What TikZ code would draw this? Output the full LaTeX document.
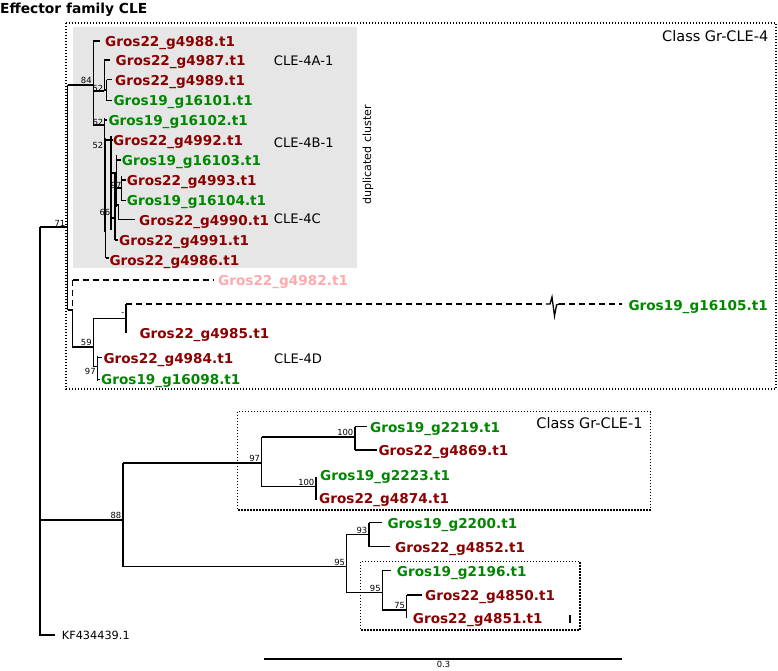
\documentclass[tikz,border=0pt]{standalone}
\usepackage{fontspec}
\setmainfont{DejaVu Sans}
\definecolor{gred}{RGB}{139,0,0}
\definecolor{ggreen}{RGB}{0,135,0}
\definecolor{gpink}{RGB}{255,170,170}
\definecolor{gbox}{RGB}{230,230,230}
\begin{document}
\begin{tikzpicture}[x=1pt,y=-1pt,
  br/.style={line width=1.3pt},
  leaf/.style={inner sep=0pt, anchor=base west, font=\bfseries\fontsize{13.6}{16}\selectfont},
  lr/.style={leaf, text=gred},
  lg/.style={leaf, text=ggreen},
  lp/.style={leaf, text=gpink},
  bs/.style={inner sep=0pt, anchor=south east, font=\fontsize{8.4}{10}\selectfont},
  cle/.style={inner sep=0pt, anchor=base west, font=\fontsize{13.1}{15}\selectfont},
  cls/.style={inner sep=0pt, anchor=base east, font=\fontsize{14.5}{17}\selectfont},
  dotbox/.style={line width=1.2pt, dash pattern=on 1.2pt off 1.8pt},
  dashln/.style={line width=1.3pt, dash pattern=on 6pt off 4pt}]
\useasboundingbox (0,0) rectangle (778,670);

% boxes
\fill[gbox] (72.7,27) rectangle (357,268.3);
\draw[dotbox] (66,23) rectangle (776,389);
\draw[dotbox] (237.7,411.7) rectangle (650.7,510);
\draw[dotbox] (360.7,561.7) rectangle (580,630);

% title and class labels
\node[inner sep=0pt, anchor=base west, font=\bfseries\fontsize{13.8}{16}\selectfont] (title) at (0,13) {Effector family CLE};
\node[cls] (c4) at (768.5,41.3) {Class Gr-CLE-4};
\node[cls] (c1) at (642.7,428.6) {Class Gr-CLE-1};
\node[inner sep=0pt, rotate=90, font=\fontsize{11.1}{13}\selectfont] (dup) at (368,155) {duplicated cluster};

% leaves
\node[lr] (l4988) at (105,46) {Gros22\_g4988.t1};
\node[lr] (l4987) at (115.5,65.5) {Gros22\_g4987.t1};
\node[lr] (l4989) at (115,85) {Gros22\_g4989.t1};
\node[lg] (l16101) at (113.3,105.5) {Gros19\_g16101.t1};
\node[lg] (l16102) at (108.3,125.5) {Gros19\_g16102.t1};
\node[lr] (l4992) at (113,145.5) {Gros22\_g4992.t1};
\node[lg] (l16103) at (121.7,165.5) {Gros19\_g16103.t1};
\node[lr] (l4993) at (126.7,185.5) {Gros22\_g4993.t1};
\node[lg] (l16104) at (126.7,205.5) {Gros19\_g16104.t1};
\node[lr] (l4990) at (139,225) {Gros22\_g4990.t1};
\node[lr] (l4991) at (119,245.5) {Gros22\_g4991.t1};
\node[lr] (l4986) at (109.3,265.5) {Gros22\_g4986.t1};
\node[lp] (l4982) at (218,285.5) {Gros22\_g4982.t1};
\node[lg] (l16105) at (628.3,310) {Gros19\_g16105.t1};
\node[lr] (l4985) at (139.3,338) {Gros22\_g4985.t1};
\node[lr] (l4984) at (103.3,363) {Gros22\_g4984.t1};
\node[lg] (l16098) at (101,384.5) {Gros19\_g16098.t1};
\node[lg] (l2219) at (370,432) {Gros19\_g2219.t1};
\node[lr] (l4869) at (378.3,455.3) {Gros22\_g4869.t1};
\node[lg] (l2223) at (320,480.3) {Gros19\_g2223.t1};
\node[lr] (l4874) at (319,503.3) {Gros22\_g4874.t1};
\node[lg] (l2200) at (387.3,528) {Gros19\_g2200.t1};
\node[lr] (l4852) at (395,552) {Gros22\_g4852.t1};
\node[lg] (l2196) at (396.7,576) {Gros19\_g2196.t1};
\node[lr] (l4850) at (425,600.3) {Gros22\_g4850.t1};
\node[lr] (l4851) at (412.7,623.6) {Gros22\_g4851.t1};
\node[inner sep=0pt, anchor=base west, font=\fontsize{11.3}{13}\selectfont] (kf) at (61.7,639.2) {KF434439.1};

% CLE labels
\node[cle] (a41) at (273.7,65.3) {CLE-4A-1};
\node[cle] (b41) at (273.7,147.5) {CLE-4B-1};
\node[cle] (c4c) at (273.7,223.8) {CLE-4C};
\node[cle] (d4d) at (274,363.1) {CLE-4D};

% main tree coordinates
\coordinate (R1) at (40,227);
\coordinate (R3) at (40,635);
\coordinate (N71t) at (67.7,85);
\coordinate (N71b) at (67.7,310);
\coordinate (N84) at (93.3,85);
\coordinate (N72) at (72.7,310);
\coordinate (N59) at (93.3,347);
\coordinate (Nd) at (126,318.3);
\coordinate (N97d) at (97.3,366.7);
\coordinate (N88) at (123,520);
\coordinate (N97) at (261.7,463);
\coordinate (N100a) at (355,437);
\coordinate (N100b) at (316,486.7);
\coordinate (N95a) at (346.7,566.7);
\coordinate (N93) at (369,534.3);
\coordinate (N95b) at (382.3,592.7);
\coordinate (N75) at (406.7,610);

% root
\draw[br] (R1) -- (R3) -- (55,635);
\draw[br] (R1) -- (67.7,227);
\draw[br] (N71t) -- (N71b);
\draw[br] (N71t) -- (N84);
\draw[br] (N71b) -- (N72);
\draw[br] (40,520) -- (N88);

% cluster (node 84 subtree)
\draw[br] (93.3,41) -- (93.3,126);
\draw[br] (93.3,41) -- (100,41);
\draw[br] (93.3,91) -- (104.3,91);
\draw[br] (104.3,60) -- (104.3,91);
\draw[br] (104.3,60) -- (110,60);
\draw[br] (104.3,90) -- (106.7,90);
\draw[br] (106.7,79.5) -- (106.7,100.5);
\draw[br] (106.7,79.5) -- (111.5,79.5);
\draw[br] (106.7,100.5) -- (111.5,100.5);
\draw[line width=2.2pt] (93.3,125) -- (104.3,125);
\draw[br] (104.3,118) -- (104.3,232);
\draw[br] (104.3,120) -- (107,120);
\draw[br] (104.3,148) -- (105.7,148);
\draw[br] (105.7,138) -- (105.7,258);
\draw[br] (105.7,258) -- (108.5,258);
\draw[br] (105.7,140) -- (111,140);
\draw[br] (111,136) -- (111,230);
\draw[br] (111,140) -- (112.5,140);
\draw[br] (111,173) -- (116.7,173);
\draw[br] (111,218) -- (115,218);
\draw[br] (115,173) -- (115,240);
\draw[br] (115,240) -- (118,240);
\draw[br] (116.7,155) -- (116.7,207);
\draw[br] (116.7,160) -- (120.5,160);
\draw[br] (116.7,188) -- (121.7,188);
\draw[br] (121.7,176) -- (121.7,200.5);
\draw[br] (121.7,180) -- (125.5,180);
\draw[br] (121.7,200.5) -- (125.5,200.5);
\draw[br] (116.7,205) -- (118.3,205) -- (118.3,219.5) -- (135,219.5);

% lower part of CLE-4
\draw[dashln] (72.7,280) -- (72.7,310);
\draw[dashln] (72.7,280) -- (213,280);
\draw[br] (N72) -- (72.7,347) -- (N59);
\draw[br] (93.3,318.3) -- (93.3,366.7);
\draw[br] (93.3,318.3) -- (Nd);
\draw[br] (126,304) -- (126,332.7);
\draw[dashln] (126,304) -- (546,304);
\draw[line width=1.3pt, line join=miter] (546,304) -- (550,304) -- (552,297) -- (554.5,316) -- (556.5,305) -- (559,304);
\draw[dashln] (559,304) -- (622,304);
\draw[br] (93.3,366.7) -- (N97d);
\draw[br] (97.3,355.5) -- (97.3,380.5);
\draw[br] (97.3,357.7) -- (101.5,357.7);
\draw[br] (97.3,379.3) -- (99.5,379.3);

% Gr-CLE-1 and others
\draw[br] (123,463) -- (123,567);
\draw[br] (123,463) -- (N97);
\draw[br] (261.7,437) -- (261.7,486.7);
\draw[br] (261.7,437) -- (N100a);
\draw[br] (355,426.7) -- (355,450);
\draw[br] (355,426.7) -- (366.7,426.7);
\draw[br] (355,450) -- (376.7,450);
\draw[br] (261.7,486.7) -- (N100b);
\draw[br] (316,477) -- (316,500);
\draw[br] (123,566.7) -- (N95a);
\draw[br] (346.7,534.3) -- (346.7,592.7);
\draw[br] (346.7,534.3) -- (N93);
\draw[br] (369,522.7) -- (369,546.7);
\draw[br] (369,522.7) -- (381.7,522.7);
\draw[br] (369,546.7) -- (390,546.7);
\draw[br] (346.7,592.7) -- (N95b);
\draw[br] (382.3,570.7) -- (382.3,610);
\draw[br] (382.3,570.7) -- (391,570.7);
\draw[br] (382.3,610) -- (N75);
\draw[br] (406.7,595) -- (406.7,618.3);
\draw[br] (406.7,595) -- (421.7,595);
\draw[line width=1.6pt] (570,615) -- (570,623);

% bootstrap values
\node[bs] (b84) at (91.8,84.2) {84};
\node[bs] (b52a) at (103.5,91.5) {52};
\node[bs] (b62) at (103.5,126) {62};
\node[bs] (b52b) at (103.5,148.5) {52};
\node[bs] (b97i) at (121.7,188.5) {97};
\node[bs] (b66) at (110.5,215.5) {66};
\node[bs] (b71) at (65.5,226.2) {71};
\node[bs] (b59) at (91.8,346.2) {59};
\node[bs] (bd) at (124.5,316) {-};
\node[bs, anchor=north east] (b97d) at (95.8,367.6) {97};
\node[bs] (b88) at (121.5,519.2) {88};
\node[bs] (b97) at (260.2,462.2) {97};
\node[bs] (b100a) at (353.5,436.2) {100};
\node[bs] (b100b) at (314.5,485.9) {100};
\node[bs] (b95a) at (345.2,565.9) {95};
\node[bs] (b93) at (367.5,533.5) {93};
\node[bs] (b95b) at (380.8,591.9) {95};
\node[bs] (b75) at (405.2,609.2) {75};

% scale bar
\coordinate (s1) at (263.5,659);
\coordinate (s2) at (621.5,659);
\draw[line width=1.5pt] (s1) -- (s2);
\node[inner sep=0pt, anchor=north, font=\fontsize{8.4}{10}\selectfont] (sc) at (443.5,661.5) {0.3};
\end{tikzpicture}
\end{document}
